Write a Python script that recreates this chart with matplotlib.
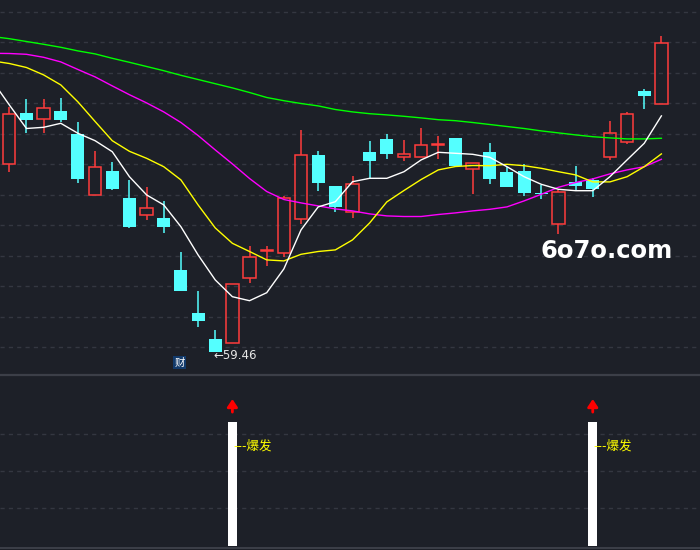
import numpy as np
import matplotlib
matplotlib.use('agg')
import matplotlib.pyplot as plt

# candle data (open, high, low, close), one per trading day
opens = [68.83, 71.40, 71.08, 71.50, 70.35, 67.28, 68.51, 67.16, 66.31, 66.15,
         63.55, 61.41, 60.10, 59.88, 63.16, 64.50, 64.38, 66.08, 69.30, 67.75,
         66.45, 69.45, 70.10, 69.18, 69.18, 69.80, 70.15, 68.58, 69.43, 68.43,
         68.50, 67.39, 65.83, 67.93, 68.05, 69.18, 69.93, 72.50, 71.83]
highs = [71.71, 72.10, 72.10, 72.16, 70.95, 69.50, 68.95, 68.05, 67.71, 67.00,
         64.46, 62.50, 60.55, 62.83, 64.75, 64.75, 67.25, 70.55, 69.50, 67.75,
         68.25, 70.00, 70.35, 70.05, 70.65, 70.25, 70.15, 68.88, 69.88, 68.71,
         68.83, 67.80, 67.55, 68.75, 68.13, 71.00, 71.45, 72.60, 75.25]
lows = [68.46, 70.38, 70.38, 70.96, 67.88, 67.28, 67.55, 65.63, 66.05, 65.38,
        62.51, 60.71, 59.46, 59.88, 62.88, 63.76, 64.21, 65.85, 67.51, 66.43,
        66.15, 68.08, 69.08, 69.01, 69.18, 69.11, 68.75, 67.33, 67.83, 67.71,
        67.26, 67.11, 65.33, 67.55, 67.18, 69.03, 69.86, 71.61, 71.83]
closes = [71.33, 71.06, 71.63, 71.06, 68.11, 68.68, 67.61, 65.71, 66.65, 65.71,
          62.51, 61.01, 59.46, 62.83, 64.21, 64.52, 67.13, 69.30, 67.91, 66.71,
          67.85, 69.01, 69.36, 69.35, 69.80, 69.82, 68.75, 68.88, 68.11, 67.71,
          67.41, 67.37, 67.43, 67.76, 67.61, 70.38, 71.33, 72.26, 74.88]

# moving average lines, index -1 .. 38
ma_white = [73.02, 71.80, 70.62, 70.68, 70.88, 70.38, 70.01, 69.46, 68.21, 67.30,
            66.80, 65.71, 64.30, 63.05, 62.21, 62.01, 62.41, 63.60, 65.55, 66.70,
            66.96, 67.96, 68.13, 68.13, 68.46, 69.05, 69.43, 69.38, 69.33, 69.18,
            68.71, 68.21, 67.83, 67.58, 67.51, 67.51, 68.21, 69.05, 69.88, 71.25]
ma_yellow = [74.00, 73.87, 73.67, 73.30, 72.80, 71.95, 70.97, 70.01, 69.48, 69.13,
             68.71, 68.05, 66.80, 65.65, 64.88, 64.47, 64.05, 64.00, 64.33, 64.47,
             64.55, 65.05, 65.90, 66.95, 67.52, 68.07, 68.55, 68.72, 68.77, 68.76,
             68.83, 68.76, 68.63, 68.46, 68.30, 67.95, 67.95, 68.21, 68.71, 69.35]
ma_magenta = [74.38, 74.37, 74.33, 74.18, 73.95, 73.57, 73.20, 72.75, 72.31, 71.90,
              71.45, 70.92, 70.27, 69.55, 68.85, 68.12, 67.47, 67.07, 66.90, 66.75,
              66.60, 66.50, 66.35, 66.25, 66.22, 66.22, 66.32, 66.40, 66.50, 66.58,
              66.70, 67.00, 67.33, 67.68, 67.92, 68.10, 68.35, 68.55, 68.71, 69.08]
ma_green = [75.22, 75.11, 74.97, 74.83, 74.68, 74.50, 74.35, 74.13, 73.93, 73.72,
            73.51, 73.28, 73.07, 72.86, 72.65, 72.42, 72.17, 72.01, 71.87, 71.75,
            71.57, 71.45, 71.36, 71.30, 71.23, 71.15, 71.06, 71.01, 70.92, 70.82,
            70.72, 70.62, 70.50, 70.40, 70.30, 70.21, 70.15, 70.10, 70.10, 70.13]

low_index = 12
low_label = '59.46'
report_index = 10      # 财 marker
burst_days = [13, 34]  # 爆发 signal
burst_label = '---爆发'

BG = '#1d2028'
RED = '#ff3c3c'
CYAN = '#54ffff'
GRID = '#343741'

plt.rcParams['font.family'] = ['DejaVu Sans']
fig = plt.figure(figsize=(7, 5.5), dpi=100, facecolor=BG)

# ---- main candle panel
ax = fig.add_axes([0, 175 / 550, 1, 375 / 550], facecolor=BG)
n = len(opens)
x = np.arange(n)
for y in np.arange(59.695, 77.0, 1.525):
    ax.axhline(y, color=GRID, lw=1, ls=(0, (3, 3)), zorder=0)

for i in range(n):
    o, h, l, c = opens[i], highs[i], lows[i], closes[i]
    top, bot = max(o, c), min(o, c)
    body = max(top - bot, 0.05)
    if c >= o:
        ax.vlines(i, top, h, color=RED, lw=1.1, zorder=2)
        ax.vlines(i, l, bot, color=RED, lw=1.1, zorder=2)
        ax.bar(i, body, bottom=bot, width=0.72, facecolor='none',
               edgecolor=RED, lw=1.1, zorder=2)
    else:
        ax.vlines(i, l, h, color=CYAN, lw=1.1, zorder=2)
        ax.bar(i, body, bottom=bot, width=0.76, color=CYAN, lw=0, zorder=2)

xm = np.arange(-1, n)
ax.plot(xm, ma_green, color='#00ff00', lw=1.0, zorder=3)
ax.plot(xm, ma_magenta, color='#ff00ff', lw=1.0, zorder=3)
ax.plot(xm, ma_yellow, color='#ffff00', lw=1.0, zorder=3)
ax.plot(xm, ma_white, color='#ffffff', lw=1.0, zorder=3)

ax.annotate('\u2190' + low_label, xy=(low_index, lows[low_index]),
            xytext=(-1, -3), textcoords='offset points', ha='left', va='center',
            color='#e6e6e6', fontsize=8.5)
ax.text(report_index - 0.06, 0.02, '财', transform=ax.get_xaxis_transform(),
        ha='center', va='bottom', color='white', fontsize=7.5,
        family=['Noto Sans CJK SC', 'DejaVu Sans'],
        bbox=dict(boxstyle='square,pad=0.12', facecolor='#123a6b', edgecolor='none'))
ax.text(0.866, 0.33, '6o7o.com', transform=ax.transAxes, ha='center', va='center',
        color='white', fontsize=17.5, fontweight='bold')

ax.set_xlim(-0.542, 40.25)
ax.set_ylim(58.295, 77.045)
ax.axis('off')

# ---- signal panel
ax2 = fig.add_axes([0, 2 / 550, 1, 172 / 550], facecolor=BG)
for y in [23.1, 44.6, 66.1]:
    ax2.axhline(y, color=GRID, lw=1, ls=(0, (3, 3)), zorder=0)
ax2.bar(burst_days, [72.0] * len(burst_days), bottom=1.3, width=0.53,
        color='white', lw=0, zorder=2)
for d in burst_days:
    ax2.annotate('', xy=(d, 86.6), xytext=(d, 79.0),
                 arrowprops=dict(arrowstyle='-|>,head_width=0.3,head_length=0.45',
                                 color='#ff0000', lw=2, shrinkA=0, shrinkB=0))
    ax2.text(d + 0.03, 59.1, burst_label, ha='left', va='center', color='#ffff00',
             fontsize=9, family=['DejaVu Sans', 'Noto Sans CJK SC'], zorder=3)
ax2.set_xlim(-0.542, 40.25)
ax2.set_ylim(0, 100)
ax2.axis('off')

# panel separators
fig.add_artist(plt.Line2D([0, 1], [175 / 550, 175 / 550], color='#3c3f48', lw=1.6))
fig.add_artist(plt.Line2D([0, 1], [2 / 550, 2 / 550], color='#3c3f48', lw=1.4))

fig.savefig('out.png', dpi=100, facecolor=BG)
